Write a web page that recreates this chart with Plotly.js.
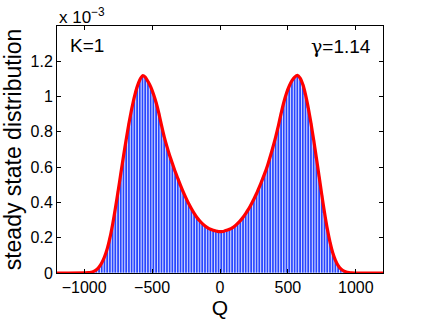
<!DOCTYPE html>
<html>
<head>
<meta charset="utf-8">
<script src="https://cdn.plot.ly/plotly-3.0.1.min.js"></script>
<style>html,body{margin:0;padding:0;background:#fff;}#chart{width:423px;height:319px;}</style>
</head>
<body>
<div id="chart"></div>
<script>
// Bin centres (Q), width 20
var binCenters = [-990,-970,-950,-930,-910,-890,-870,-850,-830,-810,-790,-770,-750,-730,-710,-690,-670,-650,-630,-610,-590,-570,-550,-530,-510,-490,-470,-450,-430,-410,-390,-370,-350,-330,-310,-290,-270,-250,-230,-210,-190,-170,-150,-130,-110,-90,-70,-50,-30,-10,
10,30,50,70,90,110,130,150,170,190,210,230,250,270,290,310,330,350,370,390,410,430,450,470,490,510,530,550,570,590,610,630,650,670,690,710,730,750,770,790,810,830,850,870,890,910,930,950,970,990];
// steady state distribution (x 1e-3)
var density = [0.001,0.002,0.004,0.009,0.018,0.034,0.058,0.092,0.138,0.200,0.278,0.368,0.465,0.565,0.665,0.760,0.850,0.930,1.000,1.055,1.095,1.118,1.110,1.085,1.055,1.015,0.965,0.905,0.835,0.770,0.715,0.665,0.620,0.575,0.535,0.495,0.458,0.424,0.392,0.364,0.338,0.315,0.296,0.280,0.267,0.256,0.248,0.242,0.238,0.235,
0.235,0.237,0.242,0.248,0.256,0.267,0.281,0.297,0.316,0.338,0.362,0.390,0.420,0.452,0.488,0.526,0.566,0.610,0.660,0.714,0.772,0.836,0.905,0.968,1.020,1.060,1.090,1.110,1.120,1.105,1.068,1.010,0.935,0.848,0.752,0.650,0.545,0.440,0.340,0.250,0.175,0.115,0.072,0.042,0.023,0.012,0.006,0.003,0.001,0.000];
var qRange = [-1200, 1200];
var yTickVals = [0, 0.2, 0.4, 0.6, 0.8, 1.0, 1.2];
var yTickText = ["0", "0.2", "0.4", "0.6", "0.8", "1", "1.2"];
var xTickVals = [-1000, -500, 0, 500, 1000];
var kLabel = "K=1";
var gammaLabel = "<span style=\"font-family:'DejaVu Serif',serif\">\u03b3</span>=1.14";

var scale = 1e-3;
var barY = density.map(function(v){return v*scale;});
var curveX = [qRange[0]].concat(binCenters, [qRange[1]]);
var curveY = [0].concat(barY, [0]);

var font = "Liberation Sans, Arial, Helvetica, sans-serif";

var traces = [
  {type:"bar", x:binCenters, y:barY, width:20,
   marker:{color:"rgb(40,70,255)", line:{color:"rgba(255,255,255,0.9)", width:0.7}},
   hoverinfo:"none"},
  {type:"scatter", mode:"lines", x:curveX, y:curveY,
   line:{color:"rgb(255,0,0)", width:3.2, shape:"spline", smoothing:0.6},
   hoverinfo:"none"}
];

var layout = {
  width:423, height:319,
  margin:{l:57, r:40, t:26, b:46},
  paper_bgcolor:"#fff", plot_bgcolor:"#fff",
  showlegend:false, bargap:0,
  font:{family:font, size:16, color:"#000"},
  xaxis:{range:qRange, tickvals:xTickVals, ticks:"inside", ticklen:4, tickcolor:"#000",
         showline:true, linecolor:"#000", linewidth:1, mirror:"ticks", showgrid:false, zeroline:false,
         tickfont:{size:16, family:font},
         title:{text:"Q", font:{size:21, family:font}, standoff:1}},
  yaxis:{range:[0, 1.4e-3], tickvals:yTickVals.map(function(v){return v*scale;}), ticktext:yTickText,
         ticks:"inside", ticklen:4, tickcolor:"#000",
         showline:true, linecolor:"#000", linewidth:1, mirror:"ticks", showgrid:false, zeroline:false,
         tickfont:{size:16, family:font},
         title:{text:"steady state distribution", font:{size:23, family:font}, standoff:2}},
  annotations:[
    {xref:"paper", yref:"paper", x:0, y:1, xanchor:"left", yanchor:"bottom", yshift:-3,
     text:"x 10<sup>\u22123</sup>", showarrow:false, font:{size:17, family:font}},
    {xref:"paper", yref:"paper", x:0.035, y:0.92, xanchor:"left", yanchor:"middle",
     text:kLabel, showarrow:false, font:{size:19, family:font}},
    {xref:"paper", yref:"paper", x:0.97, y:0.92, xanchor:"right", yanchor:"middle",
     text:gammaLabel, showarrow:false, font:{size:19, family:font}}
  ]
};

Plotly.newPlot("chart", traces, layout, {staticPlot:true, displayModeBar:false});
</script>
</body>
</html>
